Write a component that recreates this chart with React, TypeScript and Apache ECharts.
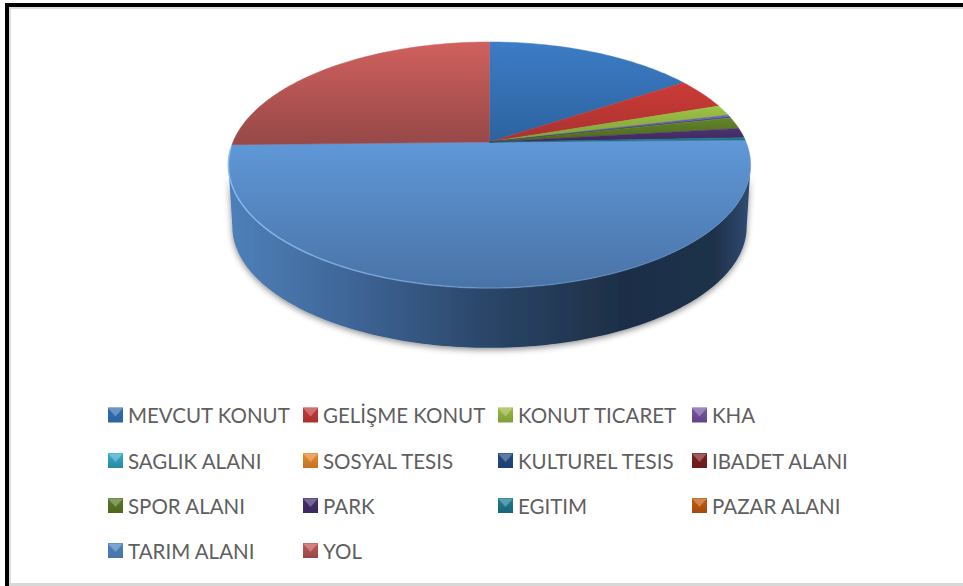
import React, { useEffect, useRef } from "react";
import * as echarts from "echarts";

const categories = ["MEVCUT KONUT", "GELİŞME KONUT", "KONUT TICARET", "KHA", "SAGLIK ALANI", "SOSYAL TESIS", "KULTUREL TESIS", "IBADET ALANI", "SPOR ALANI", "PARK", "EGITIM", "PAZAR ALANI", "TARIM ALANI", "YOL"];
const values = [15.7, 4.1, 1.4, 0.2, 0.03, 0.03, 0.12, 0.05, 1.5, 1.3, 0.3, 0.01, 49.9, 25.36];
const lightColors = ["#3c7cc6", "#cc3b37", "#9bc344", "#7f5cae", "#35a9c8", "#ee8c2d", "#254f8d", "#882422", "#648528", "#4c3373", "#207f97", "#c95e12", "#6098d8", "#d0605d"];
const darkColors = ["#2c639f", "#a8322f", "#7f9e38", "#5e4585", "#2a88a2", "#c57223", "#1e3f70", "#6c1b1b", "#4d661e", "#3c285b", "#196478", "#a34a0d", "#4973a7", "#964848"];
const iconColors = ["#2f6db0", "#c0393a", "#9aba3e", "#7b57a8", "#33afcc", "#ea8a2a", "#1f4a85", "#7d1f20", "#5c7a25", "#452f6e", "#1e7e94", "#c45a10", "#4a82c0", "#c65452"];
const legendColumns = [108, 303, 498, 692];
const legendRows = [415.5, 461, 506, 551];

const W = 963, H = 586;
const CX = 489.5, CY = 142, K = 0.187, A = 256.5, B = 118.7;
const BOTTOM_SCALE = 0.985, BOTTOM_DY = 62;
const total = values.reduce((a, b) => a + b, 0);
const starts: number[] = [];
values.reduce((acc, v, i) => { starts[i] = acc; return acc + v; }, 0);

function pt(deg: number, bottom: boolean, r = 1): number[] {
  const t = (deg * Math.PI) / 180;
  const u = Math.sin(t) * r, v = Math.cos(t) * r;
  const w = 1 + K * v;
  const s = bottom ? BOTTOM_SCALE : 1;
  return [CX + (A * s * u) / w, CY + (bottom ? BOTTOM_DY : 0) - (B * s * v) / w];
}
function arc(a: number, b: number, bottom: boolean): number[][] {
  const pts: number[][] = [];
  const n = Math.max(1, Math.ceil(Math.abs(b - a)));
  for (let i = 0; i <= n; i++) pts.push(pt(a + ((b - a) * i) / n, bottom));
  return pts;
}
const SIDE_FROM = 100.8, SIDE_TO = 259.2;

function makeRender(i: number) {
  return () => {
    const a = (starts[i] / total) * 360;
    const b = ((starts[i] + values[i]) / total) * 360;
    const grad = new echarts.graphic.LinearGradient(0, 0, 0, 1, [
      { offset: 0, color: lightColors[i] },
      { offset: 1, color: darkColors[i] },
    ]);
    const children: any[] = [];
    const sa = Math.max(a, SIDE_FROM), sb = Math.min(b, SIDE_TO);
    if (sb > sa) {
      children.push({
        type: "polygon",
        shape: { points: [...arc(sa, sb, false), ...arc(sb, sa, true)] },
        style: {
          fill: new echarts.graphic.LinearGradient(0, 0, 1, 0, [
            { offset: 0, color: "#4f80ba" },
            { offset: 0.25, color: "#3d6494" },
            { offset: 0.5, color: "#2a4568" },
            { offset: 0.75, color: "#1e2f47" },
            { offset: 0.93, color: "#1f3049" },
            { offset: 1, color: "#2f4c74" },
          ]),
          shadowBlur: 6,
          shadowColor: "rgba(0,0,0,0.45)",
          shadowOffsetY: 2,
        },
      });
    }
    const face: any = { fill: grad };
    if (values[i] >= 0.1) {
      face.stroke = grad;
      face.lineWidth = 0.5;
    }
    children.push({
      type: "polygon",
      shape: { points: [[CX, CY], ...arc(a, b, false)] },
      style: face,
    });
    if (sb > sa) {
      children.push({
        type: "polyline",
        shape: { points: arc(sa, sb + 8, false) },
        style: {
          fill: "none",
          lineWidth: 1.5,
          stroke: new echarts.graphic.LinearGradient(0, 0, 1, 0, [
            { offset: 0, color: "rgba(140,190,240,0.9)" },
            { offset: 0.5, color: "rgba(140,190,240,0.35)" },
            { offset: 1, color: "rgba(140,190,240,0)" },
          ]),
        },
      });
    }
    return { type: "group", children };
  };
}

export default function App() {
  const ref = useRef<HTMLDivElement>(null);
  useEffect(() => {
    const chart = echarts.init(ref.current!, undefined, { renderer: "svg" });
    const pos = categories.map((_, i) => ({
      x: legendColumns[i % 4],
      y: legendRows[Math.floor(i / 4)],
    }));
    chart.setOption({
      animation: false,
      backgroundColor: "#ffffff",
      tooltip: { show: false },
      legend: categories.map((name, i) => ({
        data: [name],
        left: pos[i].x,
        top: pos[i].y - 11,
        padding: 0,
        itemWidth: 15,
        itemHeight: 15,
        selectedMode: false,
        icon: "rect",
        itemStyle: {
          color: new echarts.graphic.LinearGradient(0, 0, 0, 1, [
            { offset: 0, color: iconColors[i] },
            { offset: 1, color: darkColors[i] },
          ]),
        },
        textStyle: { color: "#5f5f5f", fontSize: 20.5, fontFamily: "Lato" },
      })),
      series: categories.map((name, i) => ({
        type: "custom",
        name,
        coordinateSystem: "none",
        silent: true,
        itemStyle: { color: iconColors[i] },
        data: [[values[i]]],
        renderItem: makeRender(i),
        z: i === 12 ? 1 : 2,
      })),
      graphic: [
        { type: "rect", z: 50, shape: { x: 9, y: 7, width: W - 9, height: 2 }, style: { fill: "#dedede" } },
        { type: "rect", z: 50, shape: { x: 9, y: 7, width: 2, height: H - 7 }, style: { fill: "#dedede" } },
        { type: "rect", z: 50, shape: { x: 9, y: H - 3, width: W - 9, height: 3 }, style: { fill: "#d8d8d8" } },
        { type: "rect", z: 51, shape: { x: 5, y: 3, width: W - 5, height: 4 }, style: { fill: "#000000" } },
        { type: "rect", z: 51, shape: { x: 5, y: 3, width: 4, height: H - 3 }, style: { fill: "#000000" } },
        ...pos.map((p) => ({
          type: "polygon",
          z: 50,
          shape: { points: [[p.x, p.y - 7.5], [p.x + 15, p.y - 7.5], [p.x + 7.5, p.y + 1]] },
          style: { fill: "rgba(255,255,255,0.28)" },
        })),
      ],
    });
    return () => chart.dispose();
  }, []);
  return <div ref={ref} style={{ position: "absolute", left: 0, top: 0, width: W, height: H }} />;
}
